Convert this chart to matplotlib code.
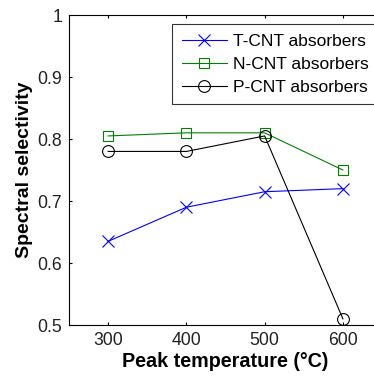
import matplotlib
matplotlib.use("Agg")
import matplotlib.pyplot as plt

# Peak temperature (deg C) and spectral selectivity per absorber type
temperatures = [300, 400, 500, 600]
t_cnt = [0.635, 0.690, 0.715, 0.720]
n_cnt = [0.805, 0.810, 0.810, 0.750]
p_cnt = [0.780, 0.780, 0.805, 0.510]
x_ticks = [300, 400, 500, 600]
y_ticks = [0.5, 0.6, 0.7, 0.8, 0.9, 1.0]
y_tick_labels = ["0.5", "0.6", "0.7", "0.8", "0.9", "1"]

plt.rcParams["font.family"] = ["Liberation Sans", "DejaVu Sans"]

fig = plt.figure(figsize=(3.74, 3.76), dpi=100)
# the original figure is cropped on the right, so the axes run past the edge
ax = fig.add_axes([0.1845, 0.1356, 0.837, 0.8244])

ax.plot(temperatures, t_cnt, color="blue", marker="x", markersize=8,
        markeredgewidth=0.8, linewidth=0.8, label="T-CNT absorbers")
ax.plot(temperatures, n_cnt, color="#008000", marker="s", markersize=7.5,
        markerfacecolor="none", markeredgewidth=0.8, linewidth=0.8,
        label="N-CNT absorbers")
ax.plot(temperatures, p_cnt, color="black", marker="o", markersize=8.5,
        markerfacecolor="none", markeredgewidth=0.8, linewidth=0.8,
        label="P-CNT absorbers")

ax.set_xlim(250, 650)
ax.set_ylim(0.5, 1.0)
ax.set_xticks(x_ticks)
ax.set_yticks(y_ticks)
ax.set_yticklabels(y_tick_labels)
ax.tick_params(direction="in", length=2.5, width=0.8, labelsize=12.7,
               top=True, right=True, pad=5, labelcolor="#222222")
for spine in ax.spines.values():
    spine.set_linewidth(0.8)

ax.set_xlabel("Peak temperature (\u00b0C)", fontsize=14.2, fontweight="bold",
              labelpad=2)
ax.set_ylabel("Spectral selectivity", fontsize=14, fontweight="bold",
              labelpad=3)

leg = ax.legend(loc="upper left", bbox_to_anchor=(172 / 374, 1 - 24 / 376),
                bbox_transform=fig.transFigure, fontsize=12.5, frameon=True,
                fancybox=False, edgecolor="black", handlelength=2.6,
                handletextpad=0.35, borderpad=0.55, labelspacing=0.45,
                borderaxespad=0)
leg.get_frame().set_linewidth(0.8)

plt.savefig("out.png", dpi=100)
